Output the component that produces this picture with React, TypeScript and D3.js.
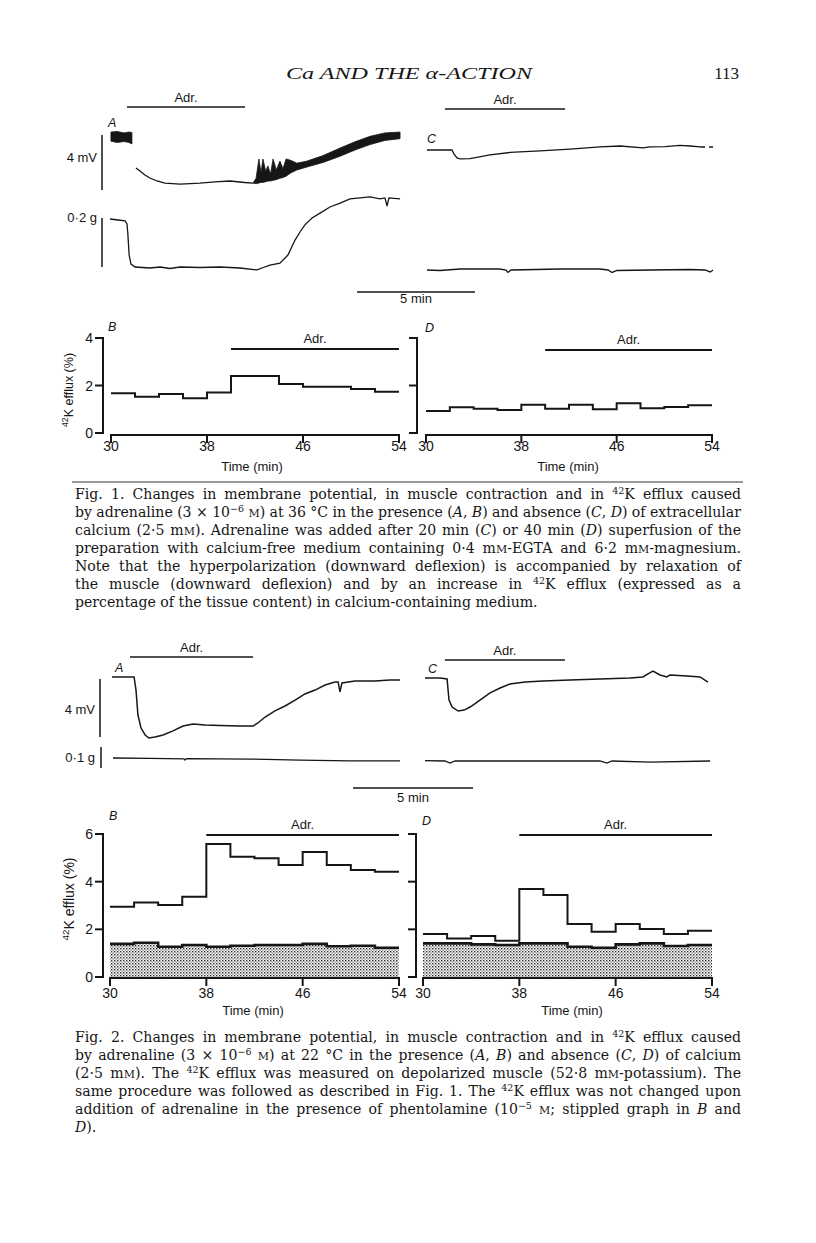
import React, { useLayoutEffect, useRef, useState } from 'react';
import * as d3 from 'd3';

type P = [number, number];
type B = [number, number, number];

// ---------- Fig. 1 traces (time in min from trace start; mV or g relative to initial level)
const f1A_mVPre: B[] = [[0.04, -0.3, 0.36], [0.3, -0.4, 0.4], [0.6, -0.33, 0.3], [0.8, -0.4, 0.36], [0.93, -0.5, 0.33]];
const f1A_mV: P[] = [[1.10, -2.25], [1.27, -2.47], [1.48, -2.76], [1.69, -2.98], [1.99, -3.2], [2.33, -3.35], [2.97, -3.42], [3.81, -3.35], [4.45, -3.27], [5.08, -3.2], [5.72, -3.31], [6.06, -3.35]];
const f1A_mVPost: B[] = [[6.06, -3.35, -3.35], [6.19, -3.4, -3.0], [6.31, -3.35, -1.6], [6.4, -3.3, -2.6], [6.48, -3.3, -1.6], [6.6, -3.25, -2.5], [6.69, -3.2, -2.1], [6.8, -3.2, -2.7], [6.91, -3.15, -1.6], [7.05, -3.1, -2.4], [7.2, -3.0, -1.75], [7.33, -2.95, -2.3], [7.46, -2.85, -1.6], [7.67, -2.6, -1.7], [7.92, -2.4, -1.9], [8.35, -2.18, -1.75], [9.03, -1.85, -1.35], [9.75, -1.4, -0.8], [10.38, -0.95, -0.35], [11.02, -0.55, 0.05], [11.65, -0.25, 0.3], [12.29, -0.12, 0.36]];
const f1A_g: P[] = [[0, 0], [0.34, -0.004], [0.64, -0.008], [0.72, -0.02], [0.76, -0.065], [0.81, -0.147], [0.89, -0.184], [1.06, -0.196], [1.69, -0.2], [2.12, -0.196], [2.54, -0.202], [2.97, -0.196], [3.81, -0.198], [4.66, -0.196], [5.51, -0.2], [6.23, -0.208], [6.44, -0.2], [6.78, -0.188], [7.2, -0.18], [7.54, -0.147], [7.84, -0.086], [8.05, -0.053], [8.26, -0.024], [8.56, 0.004], [8.9, 0.024], [9.32, 0.049], [9.75, 0.065], [10.17, 0.082], [10.59, 0.086], [11.02, 0.09], [11.44, 0.082], [11.65, 0.086], [11.74, 0.053], [11.82, 0.086], [12.29, 0.082]];
const f1C_mV: P[] = [[0, 0], [1.06, 0], [1.14, -0.29], [1.27, -0.58], [1.4, -0.65], [1.82, -0.62], [2.67, -0.36], [3.52, -0.18], [4.79, -0.07], [6.06, 0.07], [7.33, 0.22], [8.18, 0.29], [9.15, 0.15], [9.45, 0.22], [10.08, 0.25], [10.72, 0.33], [11.14, 0.29], [11.57, 0.22]];
const f1C_mVTail: P[] = [[11.57, 0.22], [12.12, 0.22]];
const f1C_g: P[] = [[0, 0], [0.55, -0.002], [1.4, 0.004], [3.08, 0.004], [3.35, 0], [3.43, -0.01], [3.56, 0], [5.64, 0.004], [7.33, 0.004], [7.67, 0], [7.84, -0.01], [8.05, -0.002], [9.45, 0], [11.14, 0.002], [11.78, 0], [12.0, -0.008], [12.12, 0]];
const f1AdrA: P = [0.72, 5.72];
const f1AdrC: P = [0.76, 5.85];

// ---------- Fig. 2 traces
const f2A_mV: P[] = [[0, 0], [0.92, 0], [1.0, -0.9], [1.08, -2.62], [1.21, -3.52], [1.38, -4.0], [1.54, -4.21], [1.79, -4.14], [2.13, -4.0], [2.54, -3.72], [2.96, -3.38], [3.38, -3.24], [3.88, -3.31], [4.5, -3.34], [5.33, -3.38], [5.88, -3.38], [6.08, -3.17], [6.38, -2.76], [6.79, -2.34], [7.21, -2.0], [7.63, -1.59], [8.04, -1.17], [8.46, -0.9], [8.88, -0.55], [9.29, -0.34], [9.42, -0.34], [9.5, -1.03], [9.58, -0.41], [10.13, -0.28], [10.96, -0.28], [11.58, -0.21], [12.0, -0.21]];
const f2A_g: P[] = [[0.04, 0], [1.58, -0.002], [3.0, -0.004], [3.04, -0.01], [3.1, -0.003], [5.75, -0.005], [7.83, -0.01], [9.92, -0.014], [12.0, -0.014]];
const f2C_mV: P[] = [[0, 0], [0.63, 0], [0.92, -0.07], [1.0, -1.52], [1.13, -2.0], [1.38, -2.28], [1.63, -2.21], [1.88, -2.0], [2.29, -1.52], [2.71, -1.03], [3.13, -0.69], [3.54, -0.41], [4.17, -0.28], [4.92, -0.21], [6.04, -0.14], [7.29, -0.07], [8.54, 0], [9.08, 0.07], [9.29, 0.28], [9.5, 0.48], [9.79, 0.21], [10.08, 0.07], [10.21, 0.21], [10.92, 0.14], [11.46, 0.07], [11.79, -0.28]];
const f2C_g: P[] = [[0, 0.002], [0.83, 0], [1.04, -0.01], [1.25, 0], [3.96, 0], [7.29, 0], [7.58, -0.01], [7.79, 0], [9.38, -0.005], [11.88, 0]];
const f2AdrA: P = [0.75, 5.88];
const f2AdrC: P = [0.83, 5.83];

// ---------- 42K efflux (%) per 2-min collection period
const bins = [30, 32, 34, 36, 38, 40, 42, 44, 46, 48, 50, 52];
const binEnd = 54;
const timeTicks = [30, 38, 46, 54];
const f1YTicks = [0, 2, 4];
const f2YTicks = [0, 2, 4, 6];
const f1B = [1.67, 1.53, 1.64, 1.46, 1.71, 2.40, 2.40, 2.06, 1.95, 1.95, 1.85, 1.74];
const f1D = [0.93, 1.08, 1.02, 0.97, 1.19, 1.02, 1.19, 1.0, 1.25, 1.04, 1.09, 1.17];
const f2B = [2.95, 3.13, 3.02, 3.37, 5.58, 5.05, 4.98, 4.70, 5.25, 4.70, 4.49, 4.42];
const f2Bphent = [1.39, 1.44, 1.27, 1.34, 1.27, 1.31, 1.34, 1.34, 1.39, 1.29, 1.31, 1.23];
const f2D = [1.80, 1.62, 1.72, 1.52, 3.69, 3.44, 2.22, 1.90, 2.22, 2.01, 1.80, 1.94];
const f2Dphent = [1.41, 1.41, 1.37, 1.34, 1.41, 1.41, 1.27, 1.23, 1.37, 1.41, 1.30, 1.34];
const f1AdrB: P = [40, 54];
const f1AdrD: P = [40, 54];
const f2AdrB: P = [38, 54];
const f2AdrD: P = [38, 54];

// ---------- captions
type Seg = { t: string; s?: 'sup' | 'i' | 'sc' };
const cap1: Seg[][] = [
  [{ t: 'Fig. 1. Changes in membrane potential, in muscle contraction and in ' }, { t: '42', s: 'sup' }, { t: 'K efflux caused' }],
  [{ t: 'by adrenaline (3 × 10' }, { t: '−6', s: 'sup' }, { t: ' ' }, { t: 'M', s: 'sc' }, { t: ') at 36 °C in the presence (' }, { t: 'A', s: 'i' }, { t: ', ' }, { t: 'B', s: 'i' }, { t: ') and absence (' }, { t: 'C', s: 'i' }, { t: ', ' }, { t: 'D', s: 'i' }, { t: ') of extracellular' }],
  [{ t: 'calcium (2·5 m' }, { t: 'M', s: 'sc' }, { t: '). Adrenaline was added after 20 min (' }, { t: 'C', s: 'i' }, { t: ') or 40 min (' }, { t: 'D', s: 'i' }, { t: ') superfusion of the' }],
  [{ t: 'preparation with calcium-free medium containing 0·4 m' }, { t: 'M', s: 'sc' }, { t: '-EGTA and 6·2 m' }, { t: 'M', s: 'sc' }, { t: '-magnesium.' }],
  [{ t: 'Note that the hyperpolarization (downward deflexion) is accompanied by relaxation of' }],
  [{ t: 'the muscle (downward deflexion) and by an increase in ' }, { t: '42', s: 'sup' }, { t: 'K efflux (expressed as a' }],
  [{ t: 'percentage of the tissue content) in calcium-containing medium.' }],
];
const cap2: Seg[][] = [
  [{ t: 'Fig. 2. Changes in membrane potential, in muscle contraction and in ' }, { t: '42', s: 'sup' }, { t: 'K efflux caused' }],
  [{ t: 'by adrenaline (3 × 10' }, { t: '−6', s: 'sup' }, { t: ' ' }, { t: 'M', s: 'sc' }, { t: ') at 22 °C in the presence (' }, { t: 'A', s: 'i' }, { t: ', ' }, { t: 'B', s: 'i' }, { t: ') and absence (' }, { t: 'C', s: 'i' }, { t: ', ' }, { t: 'D', s: 'i' }, { t: ') of calcium' }],
  [{ t: '(2·5 m' }, { t: 'M', s: 'sc' }, { t: '). The ' }, { t: '42', s: 'sup' }, { t: 'K efflux was measured on depolarized muscle (52·8 m' }, { t: 'M', s: 'sc' }, { t: '-potassium). The' }],
  [{ t: 'same procedure was followed as described in Fig. 1. The ' }, { t: '42', s: 'sup' }, { t: 'K efflux was not changed upon' }],
  [{ t: 'addition of adrenaline in the presence of phentolamine (10' }, { t: '−5', s: 'sup' }, { t: ' ' }, { t: 'M', s: 'sc' }, { t: '; stippled graph in ' }, { t: 'B', s: 'i' }, { t: ' and' }],
  [{ t: 'D', s: 'i' }, { t: ').' }],
];

const SANS = '"Liberation Sans", Arial, Helvetica, sans-serif';
const SERIF = '"Liberation Serif", "Times New Roman", serif';
const CAPSERIF = '"DejaVu Serif", "Liberation Serif", serif';
const INK = '#161616';
const CAP_X = 75;
const CAP_W = 666;

function renderSegs(segs: Seg[], supSize = 9.5, scSize = 11) {
  let up = false;
  return segs.map((sg, i) => {
    let dy: number | undefined;
    if (sg.s === 'sup') { if (!up) { dy = -5.5; up = true; } }
    else if (up) { dy = 5.5; up = false; }
    return (
      <tspan key={i} dy={dy}
        fontSize={sg.s === 'sup' ? supSize : sg.s === 'sc' ? scSize : undefined}
        fontStyle={sg.s === 'i' ? 'italic' : undefined}>{sg.t}</tspan>
    );
  });
}

function CapLine({ segs, y, justify }: { segs: Seg[]; y: number; justify: boolean }) {
  const ref = useRef<SVGTextElement>(null);
  const [ws, setWs] = useState(0);
  useLayoutEffect(() => {
    if (!justify || !ref.current) return;
    const len = ref.current.getComputedTextLength();
    const text = segs.map(s => s.t).join('');
    const n = (text.match(/ /g) || []).length;
    if (n > 0) setWs((CAP_W - len) / n);
  }, []);
  return (
    <text ref={ref} x={CAP_X} y={y} style={{ whiteSpace: 'pre', wordSpacing: `${ws}px` }}>
      {renderSegs(segs)}
    </text>
  );
}

function Caption({ lines, y0 }: { lines: Seg[][]; y0: number }) {
  return (
    <g fontFamily={CAPSERIF} fontSize={14.1} fill={INK}>
      {lines.map((ln, i) => (
        <CapLine key={i} segs={ln} y={y0 + i * 18} justify={i !== lines.length - 1} />
      ))}
    </g>
  );
}

function tracePath(data: P[], x: d3.ScaleLinear<number, number>, y: d3.ScaleLinear<number, number>) {
  return d3.line<P>().x(d => x(d[0])).y(d => y(d[1]))(data) || '';
}
function bandPath(data: B[], x: d3.ScaleLinear<number, number>, y: d3.ScaleLinear<number, number>) {
  return d3.area<B>().x(d => x(d[0])).y0(d => y(d[1])).y1(d => y(d[2]))(data) || '';
}
function stepPts(vals: number[]): P[] {
  const pts: P[] = bins.map((b, i) => [b, vals[i]] as P);
  pts.push([binEnd, vals[vals.length - 1]]);
  return pts;
}

function Label({ x, y, children, size = 13, anchor = 'middle', italic = false }: any) {
  return (
    <text x={x} y={y} fontFamily={SANS} fontSize={size} textAnchor={anchor}
      fontStyle={italic ? 'italic' : undefined} fill={INK}>{children}</text>
  );
}

function AdrBar({ x1, x2, y, labelDy = -6 }: { x1: number; x2: number; y: number; labelDy?: number }) {
  return (
    <g>
      <line x1={x1} x2={x2} y1={y} y2={y} stroke={INK} strokeWidth={1.6} />
      <Label x={(x1 + x2) / 2} y={y + labelDy} size={13}>Adr.</Label>
    </g>
  );
}

function StepPanel(props: {
  x: d3.ScaleLinear<number, number>; y: d3.ScaleLinear<number, number>;
  vals: number[]; phent?: number[]; yTicks: number[]; axisX: number; axisY: number;
  showYLabels: boolean; adr: P; adrY: number; letter: string; letterX: number; letterY: number;
  tickLabelY: number; timeLabelX: number; timeLabelY: number; yLabel?: { x: number; y: number; size: number };
}) {
  const { x, y, vals, phent, yTicks, axisX, axisY } = props;
  const line = d3.line<P>().x(d => x(d[0])).y(d => y(d[1])).curve(d3.curveStepAfter);
  const area = d3.area<P>().x(d => x(d[0])).y0(y(0)).y1(d => y(d[1])).curve(d3.curveStepAfter);
  const yMax = d3.max(yTicks) as number;
  return (
    <g>
      <line x1={axisX} x2={axisX} y1={y(yMax) - 1} y2={y(0) + 1} stroke={INK} strokeWidth={2} />
      {yTicks.map(t => (
        <g key={t}>
          <line x1={axisX - 8} x2={axisX} y1={y(t)} y2={y(t)} stroke={INK} strokeWidth={2} />
          {props.showYLabels && (
            <Label x={axisX - 10} y={y(t) + 5} size={14} anchor="end">{t}</Label>
          )}
        </g>
      ))}
      <line x1={x(30) - 1} x2={x(54) + 1} y1={axisY} y2={axisY} stroke={INK} strokeWidth={2} />
      {timeTicks.map(t => (
        <g key={t}>
          <line x1={x(t)} x2={x(t)} y1={axisY} y2={axisY + 8} stroke={INK} strokeWidth={2} />
          <Label x={x(t)} y={props.tickLabelY} size={14}>{t}</Label>
        </g>
      ))}
      <Label x={props.timeLabelX} y={props.timeLabelY} size={13}>Time (min)</Label>
      {phent && (
        <g>
          <path d={area(stepPts(phent)) || ''} fill="url(#stipple)" />
          <path d={line(stepPts(phent)) || ''} fill="none" stroke={INK} strokeWidth={2.6} />
        </g>
      )}
      <path d={line(stepPts(vals)) || ''} fill="none" stroke={INK} strokeWidth={2} />
      <line x1={x(props.adr[0])} x2={x(props.adr[1])} y1={props.adrY} y2={props.adrY} stroke={INK} strokeWidth={1.8} />
      <Label x={(x(props.adr[0]) + x(props.adr[1])) / 2} y={props.adrY - 6} size={13}>Adr.</Label>
      <Label x={props.letterX} y={props.letterY} size={12.5} italic anchor="start">{props.letter}</Label>
      {props.yLabel && (
        <text transform={`translate(${props.yLabel.x},${props.yLabel.y}) rotate(-90)`} textAnchor="middle"
          fontFamily={SANS} fontSize={props.yLabel.size} fill={INK}>
          <tspan dy={-5} fontSize={props.yLabel.size * 0.7}>42</tspan>
          <tspan dy={5}>K efflux (%)</tspan>
        </text>
      )}
    </g>
  );
}

export default function App() {
  const x1A = d3.scaleLinear().domain([0, 5]).range([110, 228]);
  const y1AmV = d3.scaleLinear().domain([0, -4]).range([137, 192]);
  const y1Ag = d3.scaleLinear().domain([0, -0.2]).range([219, 268]);
  const x1C = d3.scaleLinear().domain([0, 5]).range([427, 545]);
  const y1CmV = d3.scaleLinear().domain([0, -4]).range([150, 205]);
  const y1Cg = d3.scaleLinear().domain([0, -0.2]).range([270, 319]);
  const x2A = d3.scaleLinear().domain([0, 5]).range([112, 232]);
  const y2AmV = d3.scaleLinear().domain([0, -4]).range([677, 735]);
  const y2Ag = d3.scaleLinear().domain([0, -0.1]).range([758, 779]);
  const x2C = d3.scaleLinear().domain([0, 5]).range([425, 545]);
  const y2CmV = d3.scaleLinear().domain([0, -4]).range([678, 736]);
  const y2Cg = d3.scaleLinear().domain([0, -0.1]).range([761, 782]);
  const x1B = d3.scaleLinear().domain([30, 54]).range([111, 399]);
  const x1D = d3.scaleLinear().domain([30, 54]).range([426, 712]);
  const y1E = d3.scaleLinear().domain([0, 4]).range([433, 338]);
  const x2B = d3.scaleLinear().domain([30, 54]).range([110, 399]);
  const x2D = d3.scaleLinear().domain([30, 54]).range([423, 712]);
  const y2E = d3.scaleLinear().domain([0, 6]).range([977, 834]);

  const mV1 = y1AmV(-4) - y1AmV(0);
  const g1 = y1Ag(-0.2) - y1Ag(0);
  const mV2 = y2AmV(-4) - y2AmV(0);
  const g2 = y2Ag(-0.1) - y2Ag(0);
  const fiveMin1 = x1A(5) - x1A(0);
  const fiveMin2 = x2A(5) - x2A(0);

  return (
    <svg width={816} height={1243} viewBox="0 0 816 1243"
      style={{ position: 'absolute', left: 0, top: 0, background: '#fff' }}>
      <defs>
        <pattern id="stipple" width="3" height="3" patternUnits="userSpaceOnUse">
          <rect width="3" height="3" fill="#fff" />
          <rect x="0" y="0" width="1.4" height="1.4" fill="#2a2a2a" />
          <rect x="1.5" y="1.5" width="1.2" height="1.2" fill="#555" />
        </pattern>
      </defs>
      <rect width={816} height={1243} fill="#fff" />

      <text x={286} y={79} fontFamily={SERIF} fontStyle="italic" fontSize={17.5} fill={INK}
        textLength={246} lengthAdjust="spacingAndGlyphs">Ca AND THE α-ACTION</text>
      <text x={739} y={79} fontFamily={SERIF} fontSize={17} textAnchor="end" fill={INK}>113</text>

      {/* Fig 1 A */}
      <AdrBar x1={x1A(f1AdrA[0])} x2={x1A(f1AdrA[1])} y={107} labelDy={-5} />
      <Label x={108} y={127} size={12.5} italic anchor="start">A</Label>
      <line x1={102} x2={102} y1={135} y2={135 + mV1} stroke={INK} strokeWidth={1.5} />
      <Label x={97} y={162} size={13} anchor="end">4 mV</Label>
      <line x1={102} x2={102} y1={218} y2={218 + g1} stroke={INK} strokeWidth={1.5} />
      <Label x={97} y={222} size={13} anchor="end">0·2 g</Label>
      <path d={bandPath(f1A_mVPre, x1A, y1AmV)} fill={INK} stroke={INK} strokeWidth={0.8} />
      <path d={tracePath(f1A_mV, x1A, y1AmV)} fill="none" stroke={INK} strokeWidth={1.3} />
      <path d={bandPath(f1A_mVPost, x1A, y1AmV)} fill={INK} stroke={INK} strokeWidth={0.8} />
      <path d={tracePath(f1A_g, x1A, y1Ag)} fill="none" stroke={INK} strokeWidth={1.3} />

      {/* Fig 1 C */}
      <AdrBar x1={x1C(f1AdrC[0])} x2={x1C(f1AdrC[1])} y={109} labelDy={-5} />
      <Label x={427} y={143} size={12.5} italic anchor="start">C</Label>
      <path d={tracePath(f1C_mV, x1C, y1CmV)} fill="none" stroke={INK} strokeWidth={1.3} />
      <path d={tracePath(f1C_mVTail, x1C, y1CmV)} fill="none" stroke={INK} strokeWidth={1.3} strokeDasharray="5 4" />
      <path d={tracePath(f1C_g, x1C, y1Cg)} fill="none" stroke={INK} strokeWidth={1.3} />

      <line x1={357} x2={357 + fiveMin1} y1={292} y2={292} stroke={INK} strokeWidth={1.5} />
      <Label x={357 + fiveMin1 / 2} y={303} size={13}>5 min</Label>

      {/* Fig 1 B & D */}
      <StepPanel x={x1B} y={y1E} vals={f1B} yTicks={f1YTicks} axisX={103} axisY={435} showYLabels
        adr={f1AdrB} adrY={349} letter="B" letterX={108} letterY={331}
        tickLabelY={451} timeLabelX={252} timeLabelY={471} yLabel={{ x: 73, y: 390, size: 12.5 }} />
      <StepPanel x={x1D} y={y1E} vals={f1D} yTicks={f1YTicks} axisX={417} axisY={435} showYLabels={false}
        adr={f1AdrD} adrY={350} letter="D" letterX={425} letterY={332}
        tickLabelY={451} timeLabelX={568} timeLabelY={471} />

      <line x1={72} x2={743} y1={482} y2={482} stroke="#333" strokeWidth={1.2} />

      <Caption lines={cap1} y0={499} />

      {/* Fig 2 A */}
      <AdrBar x1={x2A(f2AdrA[0])} x2={x2A(f2AdrA[1])} y={657} labelDy={-5} />
      <Label x={115} y={672} size={12.5} italic anchor="start">A</Label>
      <line x1={100} x2={100} y1={679} y2={679 + mV2} stroke={INK} strokeWidth={1.5} />
      <Label x={95} y={714} size={13} anchor="end">4 mV</Label>
      <line x1={101} x2={101} y1={747} y2={747 + g2} stroke={INK} strokeWidth={1.5} />
      <Label x={95} y={762} size={13} anchor="end">0·1 g</Label>
      <path d={tracePath(f2A_mV, x2A, y2AmV)} fill="none" stroke={INK} strokeWidth={1.5} />
      <path d={tracePath(f2A_g, x2A, y2Ag)} fill="none" stroke={INK} strokeWidth={1.3} />

      {/* Fig 2 C */}
      <AdrBar x1={x2C(f2AdrC[0])} x2={x2C(f2AdrC[1])} y={660} labelDy={-5} />
      <Label x={428} y={673} size={12.5} italic anchor="start">C</Label>
      <path d={tracePath(f2C_mV, x2C, y2CmV)} fill="none" stroke={INK} strokeWidth={1.5} />
      <path d={tracePath(f2C_g, x2C, y2Cg)} fill="none" stroke={INK} strokeWidth={1.3} />

      <line x1={353} x2={353 + fiveMin2} y1={788} y2={788} stroke={INK} strokeWidth={1.5} />
      <Label x={353 + fiveMin2 / 2} y={802} size={13}>5 min</Label>

      {/* Fig 2 B & D */}
      <StepPanel x={x2B} y={y2E} vals={f2B} phent={f2Bphent} yTicks={f2YTicks} axisX={103} axisY={978} showYLabels
        adr={f2AdrB} adrY={835} letter="B" letterX={109} letterY={820}
        tickLabelY={998} timeLabelX={253} timeLabelY={1015} yLabel={{ x: 74, y: 899, size: 14 }} />
      <StepPanel x={x2D} y={y2E} vals={f2D} phent={f2Dphent} yTicks={f2YTicks} axisX={416} axisY={978} showYLabels={false}
        adr={f2AdrD} adrY={835} letter="D" letterX={422} letterY={825}
        tickLabelY={998} timeLabelX={572} timeLabelY={1015} />

      <Caption lines={cap2} y0={1042} />
    </svg>
  );
}
